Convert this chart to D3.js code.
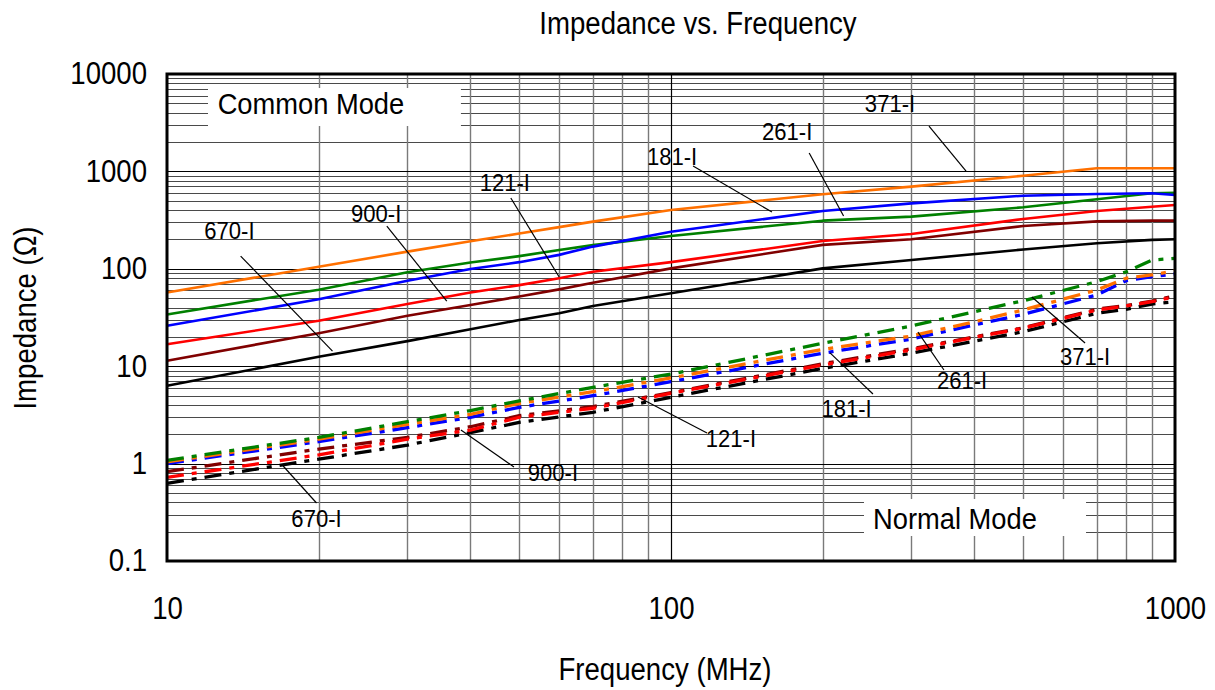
<!DOCTYPE html>
<html><head><meta charset="utf-8">
<script src="https://cdn.jsdelivr.net/npm/d3@7"></script>
<style>
body{margin:0;background:#fff;}
svg text{font-family:"Liberation Sans",Arial,Helvetica,sans-serif;fill:#000;}
</style></head>
<body><svg id="c" width="1215" height="690"></svg>
<script>
// ---------- data ----------
const freqCM = [10,20,30,40,50,60,70,100,200,300,500,700,900,1000];
const cm371 = [57,105,150,192,230,268,305,402,582,697,903,1076,1076,1076];
const cm261 = [34,61,92,116,135,156,175,217,312,343,428,517,596,604];
const cm181 = [26,48.6,75.5,99.5,117,139,169,240,392,470,563,586,596,572];
const cm121 = [16.8,29.3,43.5,57,68,80,93.4,117,193,228,325,392,434,452];
const cm900 = [11.4,21.8,33,42.5,52,61.5,72,101,176,201,275,307,312,312];
const cm670 = [6.3,12.5,18.1,23.9,29.8,35,41.5,56,101,123,158,183,198,201];

const freqNM = [10,20,30,40,50,70,100,200,300,400,500,700,800,900,1000];
const nm261 = [1.08,1.86,2.69,3.5,4.4,6.07,8.3,17.2,25.9,36.3,47,73.8,93,123,128];
const nm371 = [1.04,1.78,2.53,3.21,4.16,5.47,7.57,14.9,20.4,28.6,37.8,60.6,80,86.4,95.6];
const nm181 = [1.0,1.68,2.34,2.99,3.78,4.98,6.93,13.6,19.0,26.5,34.1,53.8,75.5,83,88.5];
const nm900 = [0.826,1.41,1.86,2.39,3.1,3.85,5.35,10.6,15.1,20,24.8,38.5,42,46.5,53];
const nm121 = [0.723,1.23,1.78,2.21,2.99,3.70,5.27,10.3,14.7,19.8,24.5,37.8,41.5,45.9,51.7];
const nm670 = [0.628,1.11,1.55,2.08,2.65,3.36,4.80,9.5,13.6,18.1,22.6,34.9,38.4,43.5,45.9];

const seriesNames = ["371-I","261-I","181-I","121-I","900-I","670-I"];
const seriesColors = ["#FF7000","#008000","#0000FF","#FF0000","#800000","#000000"];

const xTicks = [10,100,1000];
const xTickLabels = ["10","100","1000"];
const yTicks = [0.1,1,10,100,1000,10000];
const yTickLabels = ["0.1","1","10","100","1000","10000"];

// label annotations: [text, textF, textZ, fromF, fromZ, toF, toZ]
const annCM = [
  ["371-I",272,4920,325,2924,385,1009],
  ["261-I",170,2540,188,1545,220,348],
  ["181-I",100.5,1406,110.6,1135,158.6,383],
  ["121-I",46.8,760,48.1,533,60,82.4],
  ["900-I",26,365,27.3,275,35.9,46.7],
  ["670-I",13.3,244,14.0,135,21.3,14.3]
];
const annNM = [
  ["670-I",19.8,0.27,19.8,0.394,17.0,0.945],
  ["900-I",58.3,0.801,48.8,0.923,38.3,2.21],
  ["121-I",131.5,1.79,117.9,2.06,86,4.83],
  ["181-I",223,3.64,251.6,5.18,206.8,13.7],
  ["261-I",378,7.05,348,9.14,309,22.4],
  ["371-I",663,12.4,663,17.3,520,51.3]
];
// mode boxes: [text, textF, textZ, f0, z0, f1, z1]
const modeBoxes = [
  ["Common Mode",19.3,4920,12.06,7180,38.3,2924],
  ["Normal Mode",366,0.276,241.5,0.433,666,0.1806]
];

// ---------- chart ----------
const svg = d3.select("#c");
const L=167,R=1175,T=74,B=561;
const x = d3.scaleLog().domain([10,1000]).range([L,R]);
const y = d3.scaleLog().domain([0.1,10000]).range([B,T]);

// condensed text helper (scale horizontally about the anchor x)
function condense(sel,size,sx){
  sel.attr("font-size",size).attr("transform",function(){
    const xx=+this.getAttribute("x")||0;
    return `translate(${xx*(1-sx)},0) scale(${sx},1)`;
  });
}

// grid
const g = svg.append("g");
const vMinor=[], hMinor=[];
[10,100].forEach(d=>{for(let m=2;m<=9;m++) vMinor.push(d*m);});
[0.1,1,10,100,1000].forEach(d=>{for(let m=2;m<=9;m++) hMinor.push(d*m);});
g.selectAll(".hm").data(hMinor).join("line")
  .attr("x1",L).attr("x2",R).attr("y1",d=>Math.round(y(d))+0.5).attr("y2",d=>Math.round(y(d))+0.5)
  .attr("stroke","#4a4a4a").attr("stroke-width",1);
g.selectAll(".vm").data(vMinor).join("line")
  .attr("y1",T).attr("y2",B).attr("x1",d=>Math.round(x(d))+0.5).attr("x2",d=>Math.round(x(d))+0.5)
  .attr("stroke","#7a7a7a").attr("stroke-width",1.4);
g.selectAll(".hM").data(yTicks).join("line")
  .attr("x1",L).attr("x2",R).attr("y1",d=>Math.round(y(d))+0.5).attr("y2",d=>Math.round(y(d))+0.5)
  .attr("stroke","#000").attr("stroke-width",1.2);
g.selectAll(".vM").data([100]).join("line")
  .attr("y1",T).attr("y2",B).attr("x1",d=>Math.round(x(d))+0.5).attr("x2",d=>Math.round(x(d))+0.5)
  .attr("stroke","#000").attr("stroke-width",1.2);

// mode boxes (white background over grid)
modeBoxes.forEach(b=>{
  svg.append("rect").attr("x",x(b[3])).attr("y",y(b[4]))
    .attr("width",x(b[5])-x(b[3])).attr("height",y(b[6])-y(b[4])).attr("fill","#fff");
});

// lines
const line = d3.line().x(d=>x(d[0])).y(d=>y(d[1]));
const cmSeries=[cm371,cm261,cm181,cm121,cm900,cm670];
const nmSeries=[nm371,nm261,nm181,nm121,nm900,nm670];
[5,4,3,2,0,1].forEach(i=>{
  svg.append("path").datum(freqNM.map((f,k)=>[f,nmSeries[i][k]]))
    .attr("d",line).attr("fill","none").attr("stroke",seriesColors[i])
    .attr("stroke-width",3.3).attr("stroke-dasharray","17,8,5,8");
});
[5,4,3,1,2,0].forEach(i=>{
  svg.append("path").datum(freqCM.map((f,k)=>[f,cmSeries[i][k]]))
    .attr("d",line).attr("fill","none").attr("stroke",seriesColors[i])
    .attr("stroke-width",2.6).attr("stroke-linejoin","round");
});

// frame
svg.append("rect").attr("x",L).attr("y",T).attr("width",R-L).attr("height",B-T)
  .attr("fill","none").attr("stroke","#000").attr("stroke-width",3);

// axes
const ax = svg.append("g").attr("transform",`translate(0,${B})`)
  .call(d3.axisBottom(x).tickValues(xTicks).tickFormat((d,i)=>xTickLabels[i]).tickSize(0).tickPadding(36));
ax.select(".domain").remove();
ax.selectAll("text").attr("font-family","Liberation Sans, Arial").call(condense,31,0.89);
const ay = svg.append("g").attr("transform",`translate(${L},0)`)
  .call(d3.axisLeft(y).tickValues(yTicks).tickFormat((d,i)=>yTickLabels[i]).tickSize(0).tickPadding(20));
ay.select(".domain").remove();
ay.selectAll("text").attr("font-family","Liberation Sans, Arial").call(condense,31,0.89);

// titles
svg.append("text").attr("x",698).attr("y",34).attr("text-anchor","middle")
  .text("Impedance vs. Frequency").call(condense,31,0.89);
svg.append("text").attr("x",665).attr("y",680).attr("text-anchor","middle")
  .text("Frequency (MHz)").call(condense,31,0.89);
svg.append("text").attr("transform","translate(36,318) rotate(-90) scale(0.89,1)").attr("text-anchor","middle")
  .attr("font-size",31).text("Impedance (Ω)");

// mode texts
modeBoxes.forEach(b=>{
  svg.append("text").attr("x",x(b[1])).attr("y",y(b[2])).attr("dy","0.35em")
    .attr("text-anchor","middle").text(b[0]).call(condense,30,0.91);
});

// annotations
[...annCM,...annNM].forEach(a=>{
  svg.append("line").attr("x1",x(a[3])).attr("y1",y(a[4])).attr("x2",x(a[5])).attr("y2",y(a[6]))
    .attr("stroke","#000").attr("stroke-width",1.2);
  svg.append("text").attr("x",x(a[1])).attr("y",y(a[2])).attr("dy","0.35em")
    .attr("text-anchor","middle").text(a[0]).call(condense,24,0.92);
});
</script></body></html>
